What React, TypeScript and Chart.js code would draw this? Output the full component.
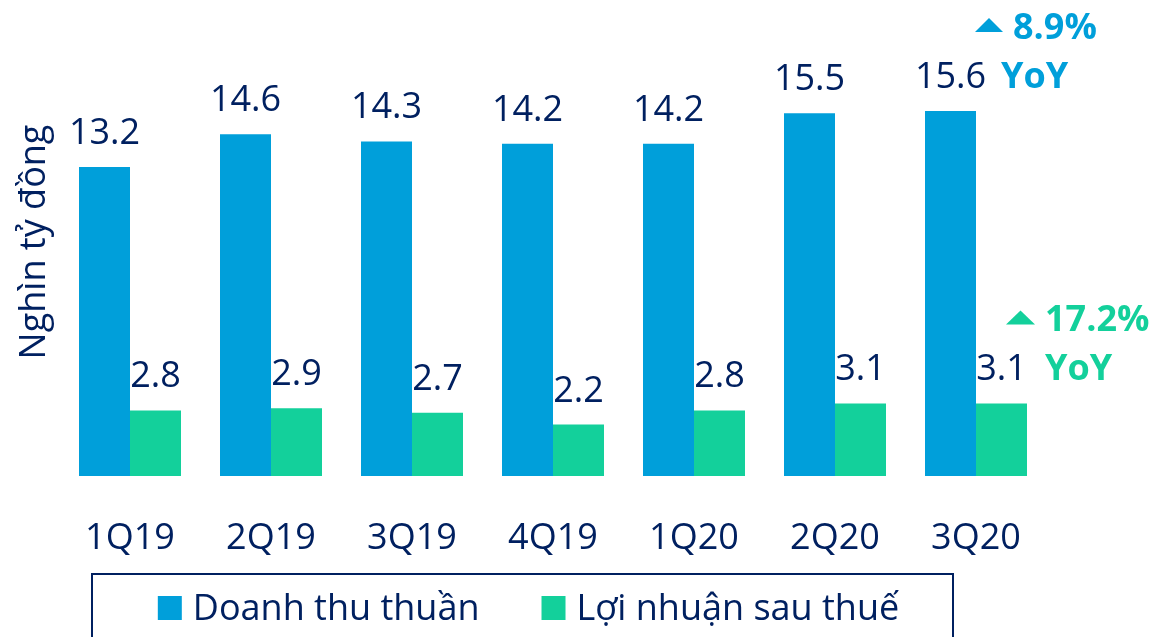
import React, { useEffect, useRef } from "react";
import { Chart, registerables } from "chart.js";

Chart.register(...registerables);

// ---------- data ----------
const categories = ["1Q19", "2Q19", "3Q19", "4Q19", "1Q20", "2Q20", "3Q20"];
const revenue = [13.2, 14.6, 14.3, 14.2, 14.2, 15.5, 15.6];
const profit = [2.8, 2.9, 2.7, 2.2, 2.8, 3.1, 3.1];
const seriesNames = ["Doanh thu thuần", "Lợi nhuận sau thuế"];
const yoyChanges = ["8.9%", "17.2%"];
const yoyText = "YoY";
const yAxisTitle = "Nghìn tỷ đồng";
const yMin = 0;
const yMax = 20;

// ---------- styles ----------
const NAVY = "#002060";
const BLUE = "#009FDA";
const GREEN = "#13D09B";
const seriesColors = [BLUE, GREEN];
const FONT = "'Open Sans', 'Noto Sans', sans-serif";

// annotation offsets (relative to last bar of each series)
const annoStyle = [
  { triLeft: 24.5, triRight: 52.5, pctX: 62.5, yoyX: 50.5 },
  { triLeft: 4.5, triRight: 33.5, pctX: 43.5, yoyX: 43.5 },
];

const valueLabelPlugin = {
  id: "valueLabels",
  afterDatasetsDraw(chart: any) {
    const ctx = chart.ctx;
    ctx.save();
    ctx.font = `36px ${FONT}`;
    ctx.fillStyle = NAVY;
    ctx.textAlign = "center";
    ctx.textBaseline = "alphabetic";
    chart.data.datasets.forEach((ds: any, i: number) => {
      const meta = chart.getDatasetMeta(i);
      meta.data.forEach((bar: any, j: number) => {
        ctx.fillText(Number(ds.data[j]).toFixed(1), bar.x, bar.y - 23);
      });
    });
    ctx.restore();
  },
};

const yoyPlugin = {
  id: "yoyAnno",
  afterDatasetsDraw(chart: any) {
    const ctx = chart.ctx;
    ctx.save();
    chart.data.datasets.forEach((ds: any, i: number) => {
      const meta = chart.getDatasetMeta(i);
      const last = meta.data[meta.data.length - 1];
      const st = annoStyle[i];
      const cx = last.x;
      const ty = last.y;
      const color = seriesColors[i];
      ctx.fillStyle = color;
      // triangle
      ctx.beginPath();
      ctx.moveTo(cx + st.triLeft, ty - 79);
      ctx.lineTo(cx + st.triRight, ty - 79);
      ctx.lineTo(cx + (st.triLeft + st.triRight) / 2, ty - 93);
      ctx.closePath();
      ctx.fill();
      ctx.font = `bold 36px ${FONT}`;
      ctx.textAlign = "left";
      ctx.textBaseline = "alphabetic";
      ctx.fillText(yoyChanges[i], cx + st.pctX, ty - 72);
      ctx.fillText(yoyText, cx + st.yoyX, ty - 23);
    });
    ctx.restore();
  },
};

const legendBoxPlugin = {
  id: "legendBox",
  afterDraw(chart: any) {
    const ctx = chart.ctx;
    ctx.save();
    // frame
    ctx.strokeStyle = NAVY;
    ctx.lineWidth = 2;
    const boxL = 92;
    const boxR = 953;
    const boxT = 574;
    ctx.strokeRect(boxL, boxT, boxR - boxL, 120);
    // items
    ctx.font = `36px ${FONT}`;
    const sq = 24;
    const gapSq = 11;
    const gapItem = 62;
    const widths = chart.data.datasets.map(
      (ds: any) => sq + gapSq + ctx.measureText(ds.label).width
    );
    const total = widths.reduce((a: number, b: number) => a + b, 0) + gapItem * (widths.length - 1);
    let x = (boxL + boxR) / 2 - total / 2 + 6;
    chart.data.datasets.forEach((ds: any, i: number) => {
      ctx.fillStyle = ds.backgroundColor;
      ctx.fillRect(x, 596, sq, sq);
      ctx.fillStyle = NAVY;
      ctx.textAlign = "left";
      ctx.textBaseline = "alphabetic";
      ctx.fillText(ds.label, x + sq + gapSq, 620);
      x += widths[i] + gapItem;
    });
    ctx.restore();
  },
};

export default function App() {
  const ref = useRef<HTMLCanvasElement | null>(null);

  useEffect(() => {
    if (!ref.current) return;
    Chart.defaults.font.family = FONT;
    const chart = new Chart(ref.current, {
      type: "bar",
      data: {
        labels: categories,
        datasets: [
          {
            label: seriesNames[0],
            data: revenue,
            backgroundColor: BLUE,
            borderWidth: 0,
            barPercentage: 1,
            categoryPercentage: 0.7234,
          },
          {
            label: seriesNames[1],
            data: profit,
            backgroundColor: GREEN,
            borderWidth: 0,
            barPercentage: 1,
            categoryPercentage: 0.7234,
          },
        ],
      },
      options: {
        responsive: false,
        animation: false,
        devicePixelRatio: 1,
        layout: { padding: { left: 0, right: 104.5, top: 8, bottom: 0 } },
        plugins: {
          legend: { display: false },
          tooltip: { enabled: false },
        },
        scales: {
          x: {
            grid: { display: false, drawTicks: false },
            border: { display: false },
            ticks: {
              color: NAVY,
              font: { size: 36, family: FONT },
              padding: 41,
              maxRotation: 0,
              autoSkip: false,
            },
            afterFit(scale: any) {
              scale.height = 161;
            },
          },
          y: {
            min: yMin,
            max: yMax,
            grid: { display: false, drawTicks: false },
            border: { display: false },
            ticks: { display: false },
            title: {
              display: true,
              text: yAxisTitle,
              color: NAVY,
              font: { size: 36, family: FONT },
              padding: { top: 13.4, bottom: 0 },
            },
            afterFit(scale: any) {
              scale.width = 59.5;
            },
          },
        },
      },
      plugins: [valueLabelPlugin, yoyPlugin, legendBoxPlugin],
    });
    return () => chart.destroy();
  }, []);

  return (
    <div style={{ position: "fixed", left: 0, top: 0, width: 1151, height: 637, background: "#fff" }}>
      <canvas ref={ref} width={1151} height={637} style={{ width: 1151, height: 637, display: "block" }} />
    </div>
  );
}
